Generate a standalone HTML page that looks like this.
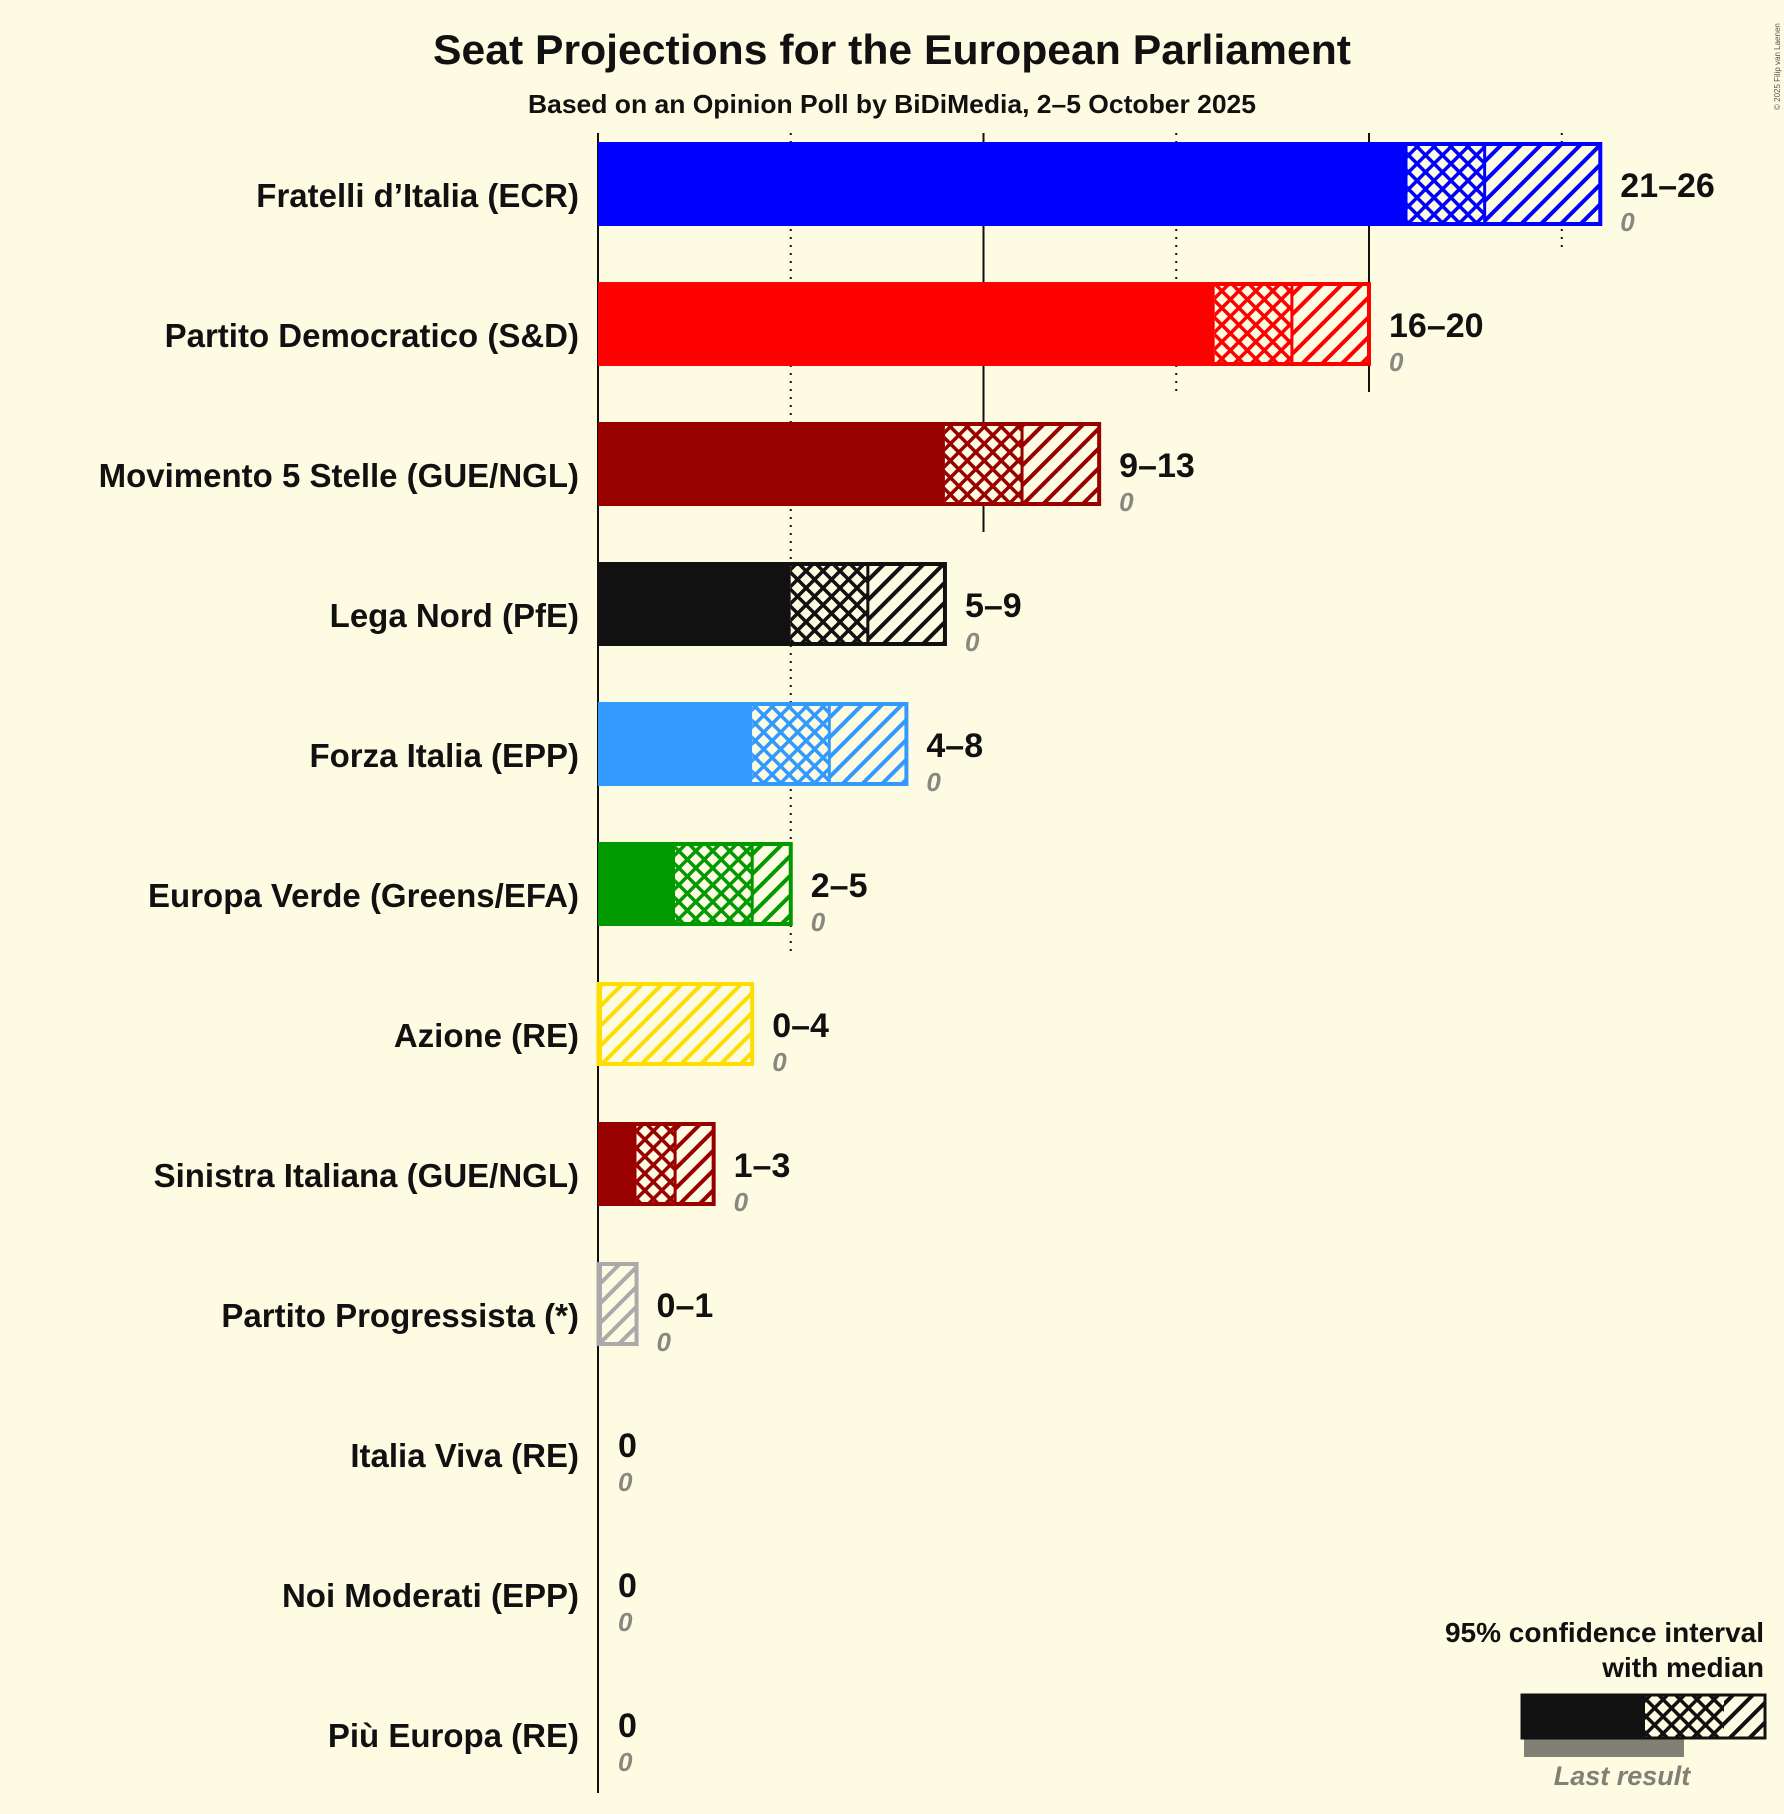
<!DOCTYPE html>
<html><head><meta charset="utf-8"><style>
html,body{margin:0;padding:0;background:#fefbe3;}
svg{display:block;font-family:"Liberation Sans",sans-serif;}
</style></head><body>
<svg id="chart" width="1784" height="1814" viewBox="0 0 1784 1814" xmlns="http://www.w3.org/2000/svg">
<rect width="1784" height="1814" fill="#fefbe3"/>
<text x="892" y="64" text-anchor="middle" font-size="42" font-weight="bold" fill="#111" textLength="918" lengthAdjust="spacingAndGlyphs">Seat Projections for the European Parliament</text>
<text x="892" y="113" text-anchor="middle" font-size="26" font-weight="bold" fill="#111" textLength="728" lengthAdjust="spacingAndGlyphs">Based on an Opinion Poll by BiDiMedia, 2–5 October 2025</text>
<text transform="translate(1780,110) rotate(-90)" font-size="8" fill="#555">© 2025 Filip van Laenen</text>
<defs id="defs"></defs>
<g id="grid"></g>
<g id="bars"></g>
<g id="legend"></g>
</svg>
<script>
const parties = ["Fratelli d’Italia (ECR)","Partito Democratico (S&D)","Movimento 5 Stelle (GUE/NGL)","Lega Nord (PfE)","Forza Italia (EPP)","Europa Verde (Greens/EFA)","Azione (RE)","Sinistra Italiana (GUE/NGL)","Partito Progressista (*)","Italia Viva (RE)","Noi Moderati (EPP)","Più Europa (RE)"];
const ciLow = [21,16,9,5,4,2,0,1,0,0,0,0];
const median = [23,18,11,7,6,4,0,2,0,0,0,0];
const ciHigh = [26,20,13,9,8,5,4,3,1,0,0,0];
const lastResult = [0,0,0,0,0,0,0,0,0,0,0,0];
const colors = ["#0000ff","#ff0000","#990000","#111111","#3399ff","#009900","#ffdd00","#990000","#aaaaaa","#888888","#888888","#888888"];
const gridTicks = [0,5,10,15,20,25];

const NS="http://www.w3.org/2000/svg";
const x0=598, perSeat=38.55, rowTop=142, rowStep=140, barH=84;
const xs=v=>x0+v*perSeat;
const yRow=i=>rowTop+i*rowStep;
function mk(tag,attrs,parent){const e=document.createElementNS(NS,tag);for(const k in attrs)e.setAttribute(k,attrs[k]);parent.appendChild(e);return e;}
const defs=document.getElementById('defs'),grid=document.getElementById('grid'),bars=document.getElementById('bars'),legend=document.getElementById('legend');
function patterns(id,color){
  const d=mk('pattern',{id:'diag'+id,width:14,height:14,patternUnits:'userSpaceOnUse',patternTransform:'rotate(45)'},defs);
  mk('rect',{width:14,height:14,fill:'#fefbe3'},d);
  mk('rect',{width:4,height:14,fill:color},d);
  const c=mk('pattern',{id:'cross'+id,width:12,height:12,patternUnits:'userSpaceOnUse',patternTransform:'rotate(45)'},defs);
  mk('rect',{width:12,height:12,fill:'#fefbe3'},c);
  mk('rect',{width:3.5,height:12,fill:color},c);
  mk('rect',{width:12,height:3.5,fill:color},c);
}
gridTicks.forEach(t=>{
  let last=-1;ciHigh.forEach((h,i)=>{if(h>=t)last=i;});
  if(t===0)last=parties.length-1;
  const yEnd=t===0?1793:yRow(last)+barH+26;
  const l=mk('line',{x1:xs(t),x2:xs(t),y1:133,y2:yEnd,stroke:'#111','stroke-width':2,'stroke-dasharray':t%10===0?'none':'2,6'},grid);
  
  
});
parties.forEach((p,i)=>{
  const c=colors[i];patterns(i,c);
  const y=yRow(i);
  const g=mk('g',{},bars);
  
  
  const lab=mk('text',{x:579,y:y+barH/2+23,'text-anchor':'end','font-size':33,'font-weight':'bold',fill:'#111'},g);
  lab.textContent=p;
  
  
  if(ciHigh[i]>0){
    if(ciLow[i]>0){const r=mk('rect',{x:xs(0),y:y,width:xs(ciLow[i])-xs(0),height:barH,fill:c},g);
      }
    if(median[i]>ciLow[i]){const r=mk('rect',{x:xs(ciLow[i]),y:y+2,width:xs(median[i])-xs(ciLow[i]),height:barH-4,fill:'url(#cross'+i+')'},g);
      }
    const r2=mk('rect',{x:xs(median[i]),y:y+2,width:xs(ciHigh[i])-xs(median[i]),height:barH-4,fill:'url(#diag'+i+')'},g);
    
    const o=mk('rect',{x:xs(0)+2,y:y+2,width:xs(ciHigh[i])-xs(0)-2,height:barH-4,fill:'none',stroke:c,'stroke-width':4},g);
    
    const m=mk('line',{x1:xs(median[i]),x2:xs(median[i]),y1:y,y2:y+barH,stroke:c,'stroke-width':3},g);
    
  }
  const rt=mk('text',{x:xs(ciHigh[i])+20,y:y+55,'font-size':34,'font-weight':'bold',fill:'#111'},g);
  rt.textContent=ciLow[i]===ciHigh[i]?String(ciLow[i]):ciLow[i]+'–'+ciHigh[i];
  
  const lr=mk('text',{x:xs(ciHigh[i])+20,y:y+89,'font-size':26,'font-weight':'bold','font-style':'italic',fill:'#888880'},g);
  lr.textContent=String(lastResult[i]);
  
});
patterns('L','#111');
const t1=mk('text',{x:1764,y:1642,'text-anchor':'end','font-size':28,'font-weight':'bold',fill:'#111'},legend);
t1.textContent='95% confidence interval';
const t2=mk('text',{x:1764,y:1677,'text-anchor':'end','font-size':28,'font-weight':'bold',fill:'#111'},legend);
t2.textContent='with median';
const lg=mk('rect',{x:1524,y:1739,width:160,height:18,fill:'#808075'},legend);

const ls=mk('rect',{x:1521,y:1694,width:124,height:45,fill:'#111'},legend);

const lc=mk('rect',{x:1645,y:1696,width:79,height:41,fill:'url(#crossL)'},legend);

const ld=mk('rect',{x:1724,y:1696,width:40,height:41,fill:'url(#diagL)'},legend);

const lo=mk('rect',{x:1522,y:1695,width:243,height:43,fill:'none',stroke:'#111','stroke-width':3},legend);

const t3=mk('text',{x:1622,y:1785,'text-anchor':'middle','font-size':27,'font-weight':'bold','font-style':'italic',fill:'#808075'},legend);
t3.textContent='Last result';
</script>
</body></html>
